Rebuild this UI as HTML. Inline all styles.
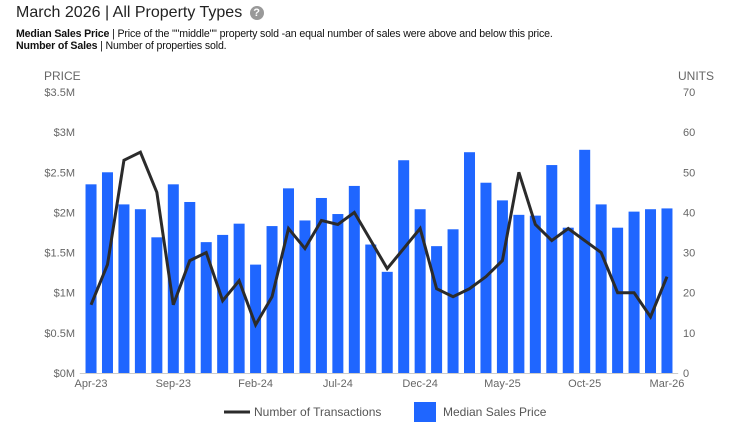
<!DOCTYPE html>
<html><head><meta charset="utf-8"><style>
body{margin:0;width:754px;height:436px;background:#fff;font-family:"Liberation Sans",sans-serif;overflow:hidden;position:relative}
.t{position:absolute;left:16px;top:4px;font-size:16px;color:#222;white-space:nowrap}
.q{display:inline-block;width:14px;height:14px;border-radius:50%;background:#999;color:#fff;font-size:11px;font-weight:bold;text-align:center;line-height:14px;vertical-align:1px;margin-left:3px}
.s{position:absolute;left:16px;font-size:10.6px;color:#111;white-space:nowrap;letter-spacing:-0.15px}
</style></head><body>
<div class="t">March 2026 | All Property Types <span class="q">?</span></div>
<div class="s" style="top:28px"><b>Median Sales Price</b> | Price of the ""middle"" property sold -an equal number of sales were above and below this price.</div>
<div class="s" style="top:40px"><b>Number of Sales</b> | Number of properties sold.</div>
<svg id="c" width="754" height="436" style="position:absolute;left:0;top:0"></svg>
<script>
const months=["Apr-23","May-23","Jun-23","Jul-23","Aug-23","Sep-23","Oct-23","Nov-23","Dec-23","Jan-24","Feb-24","Mar-24","Apr-24","May-24","Jun-24","Jul-24","Aug-24","Sep-24","Oct-24","Nov-24","Dec-24","Jan-25","Feb-25","Mar-25","Apr-25","May-25","Jun-25","Jul-25","Aug-25","Sep-25","Oct-25","Nov-25","Dec-25","Jan-26","Feb-26","Mar-26"];
const prices=[2.35,2.50,2.10,2.04,1.69,2.35,2.13,1.63,1.72,1.86,1.35,1.83,2.30,1.90,2.18,1.98,2.33,1.60,1.26,2.65,2.04,1.58,1.79,2.75,2.37,2.15,1.97,1.96,2.59,1.81,2.78,2.10,1.81,2.01,2.04,2.05];
const units=[17,27,53,55,45,17,28,30,18,23,12,19,36,31,38,37,40,33,26,31,36,21,19,21,24,28,50,37,33,36,33,30,20,20,14,24];
const priceTicks=["$0M","$0.5M","$1M","$1.5M","$2M","$2.5M","$3M","$3.5M"];
const unitTicks=["0","10","20","30","40","50","60","70"];
const xLabelIdx=[0,5,10,15,20,25,30,35];
const svg=document.getElementById('c');const NS='http://www.w3.org/2000/svg';
const L=82.8,R=675.2,T=92,B=373,bw=(R-L)/months.length;
const x=i=>L+bw*(i+0.5), yP=v=>B-(v/3.5)*(B-T), yU=v=>B-(v/70)*(B-T);
function mk(t,a,p){const e=document.createElementNS(NS,t);for(const k in a)e.setAttribute(k,a[k]);(p||svg).appendChild(e);return e;}
let e;
priceTicks.forEach((s,i)=>{e=mk('text',{x:75,y:yP(i*0.5)+4,'text-anchor':'end','font-size':11,fill:'#666'});e.textContent=s;

});
unitTicks.forEach((s,i)=>{e=mk('text',{x:683,y:yU(i*10)+4,'font-size':11,fill:'#666'});e.textContent=s;

});
e=mk('text',{x:44,y:80,'font-size':12,fill:'#666'});e.textContent='PRICE';


e=mk('text',{x:678,y:80,'font-size':12,fill:'#666'});e.textContent='UNITS';


prices.forEach((v,i)=>{e=mk('rect',{x:x(i)-5.5,y:yP(v),width:11,height:B-yP(v),fill:'#1f66ff'});

});
e=mk('line',{x1:L-3,x2:R+3,y1:B+0.5,y2:B+0.5,stroke:'#ccc'});


e=mk('polyline',{points:units.map((v,i)=>x(i)+','+yU(v)).join(' '),fill:'none',stroke:'#2b2b2b','stroke-width':3,'stroke-linejoin':'miter'});


xLabelIdx.forEach(i=>{e=mk('text',{x:x(i),y:387,'text-anchor':'middle','font-size':11,fill:'#666'});e.textContent=months[i];

});
e=mk('line',{x1:224,x2:250,y1:412,y2:412,stroke:'#2b2b2b','stroke-width':3});


e=mk('text',{x:254,y:416,'font-size':12,fill:'#555'});e.textContent='Number of Transactions';


e=mk('rect',{x:414,y:402,width:22,height:20,fill:'#1f66ff'});


e=mk('text',{x:443,y:416,'font-size':12,fill:'#555'});e.textContent='Median Sales Price';


</script>
</body></html>
